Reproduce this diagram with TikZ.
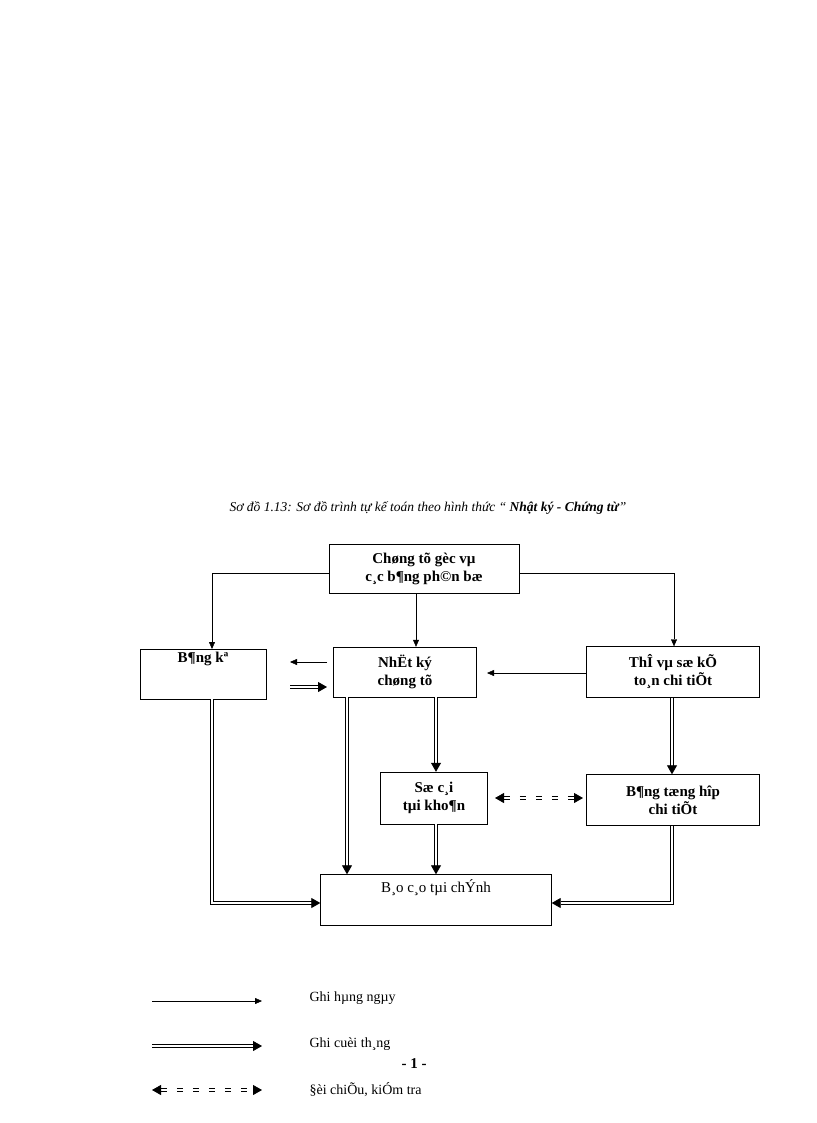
\documentclass[tikz,border=0pt]{standalone}
\usepackage{fontspec}
\setmainfont{Liberation Serif}
\usetikzlibrary{arrows.meta}

\begin{document}
\begin{tikzpicture}[x=1pt, y=-1pt, font=\fontsize{14}{16}\selectfont]

\tikzstyle{stepbox}=[align=center,draw=black,inner sep=2pt,font=\fontsize{15}{18}\selectfont\bfseries]
\tikzstyle{daily}=[draw=black,-{Triangle[length=7pt,width=6pt]}]
\tikzstyle{monthly}=[draw=black,line width=0.8pt,double=white,double distance=1.8pt,-{Triangle[length=9pt,width=10pt]}]
\tikzstyle{check}=[draw=black,line width=0.8pt,double=white,double distance=1.8pt,dash pattern=on 6pt off 10pt,{Triangle[length=9pt,width=10pt]}-{Triangle[length=9pt,width=10pt]}]

\useasboundingbox (0,0) rectangle (816,1123);

\node[font=\fontsize{13.5}{16}\selectfont\itshape] (caption) at (428,508)
  {Sơ đồ 1.13: Sơ đồ trình tự kế toán theo hình thức “ \textbf{Nhật ký - Chứng từ}”};

% boxes
\node[stepbox,minimum width=190pt,minimum height=49pt] (goc) at (424,569) {Chøng tõ gèc vµ\\c¸c b¶ng ph©n bæ};
\node[stepbox,minimum width=126pt,minimum height=50pt,anchor=north] (bangke) at (203,649) {B¶ng kª\\[16pt]};
\node[stepbox,minimum width=143pt,minimum height=50pt] (nhatky) at (405,672) {NhËt ký\\chøng tõ};
\node[stepbox,minimum width=173pt,minimum height=51pt] (the) at (673,672) {ThÎ vµ sæ kÕ\\to¸n chi tiÕt};
\node[stepbox,minimum width=107pt,minimum height=52pt] (socai) at (434,798) {Sæ c¸i\\tµi kho¶n};
\node[stepbox,minimum width=173pt,minimum height=51pt] (tonghop) at (673,800) {B¶ng tæng hîp\\chi tiÕt};
\node[draw=black,minimum width=231pt,minimum height=51pt] (baocao) at (436,900) {};
\node[font=\fontsize{15}{18}\selectfont] (baocaotext) at (436,888) {B¸o c¸o tµi chÝnh};

% daily flows
\draw[daily] (goc.west |- 0,573) -| (bangke.north -| 212,0);
\draw[daily] (416,594) -- (nhatky.north -| 416,0);
\draw[daily] (goc.east |- 0,573) -| (the.north -| 674,0);
\draw[daily] (327,662) -- (290,662);
\draw[daily] (the.west |- 0,673) -- (487,673);

% monthly flows
\draw[monthly] (290,687) -- (327,687);
\draw[monthly] (bangke.south -| 212,0) |- (baocao.west |- 0,903);
\draw[monthly] (nhatky.south -| 347,0) -- (baocao.north -| 347,0);
\draw[monthly] (nhatky.south -| 436,0) -- (socai.north -| 436,0);
\draw[monthly] (socai.south -| 436,0) -- (baocao.north -| 436,0);
\draw[monthly] (the.south -| 672,0) -- (tonghop.north -| 672,0);
\draw[monthly] (tonghop.south -| 672,0) |- (baocao.east |- 0,903);

% cross check
\draw[check] (495,798) -- (583,798);

% legend
\coordinate (d1) at (152,1001); \coordinate (d2) at (262,1001);
\coordinate (m1) at (152,1046); \coordinate (m2) at (262,1046);
\coordinate (c1) at (152,1090); \coordinate (c2) at (262,1090);
\draw[daily] (d1) -- (d2);
\draw[monthly] (m1) -- (m2);
\draw[check] (c1) -- (c2);
\node[anchor=west] (ldaily) at (306,998) {Ghi hµng ngµy};
\node[anchor=west] (lmonthly) at (306,1044) {Ghi cuèi th¸ng};
\node[anchor=west] (lcheck) at (306,1090) {§èi chiÕu, kiÓm tra};
\node[font=\fontsize{15}{18}\selectfont\bfseries] (page) at (414,1064) {- 1 -};
\end{tikzpicture}
\end{document}
